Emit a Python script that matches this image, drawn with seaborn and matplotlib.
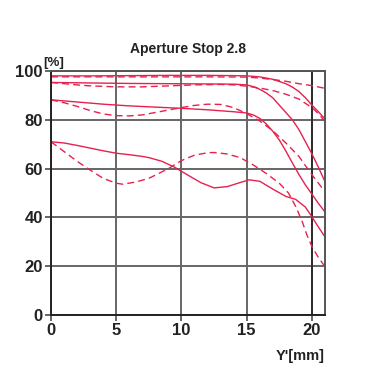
import matplotlib
matplotlib.use("Agg")
import matplotlib.pyplot as plt
import seaborn as sns
import pandas as pd

# image height Y' [mm] and contrast [%]
# solid = sagittal, dashed = meridional, four frequencies (top to bottom)
sag_10_x = [0, 3, 6, 9, 12, 14, 15, 16, 17, 18, 18.5, 19, 19.5, 20, 20.5, 21]
sag_10_y = [98, 98, 98.1, 98.2, 98.2, 98.1, 98, 97.6, 96.6, 94.8, 93.4, 91.6, 89, 86, 83.3, 80.3]
mer_10_x = [0, 3, 6, 9, 12, 15, 16, 17, 18, 19, 20, 21]
mer_10_y = [97.6, 97.6, 97.6, 97.6, 97.6, 97.5, 97.1, 96.5, 95.8, 94.8, 94, 92.9]

sag_20_x = [0, 3, 6, 9, 12, 14, 15, 15.5, 16, 16.5, 17, 17.5, 18, 18.5, 19, 19.5, 20, 20.5, 21]
sag_20_y = [95.3, 95.1, 94.9, 94.8, 94.7, 94.6, 94.3, 93.6, 92.5, 91, 89, 86, 83, 80, 76, 71, 66, 60.5, 54.6]
mer_20_x = [0, 1, 2, 3, 5, 7, 9, 11, 13, 14, 15, 16, 17, 18, 19, 20, 20.5, 21]
mer_20_y = [95.3, 94.8, 94.3, 93.9, 93.5, 93.5, 93.9, 94.3, 94.5, 94.3, 93.8, 93, 92, 90.5, 88.5, 85, 82.5, 79.3]

sag_30_x = [0, 2, 4, 6, 8, 10, 12, 14, 15, 15.5, 16, 16.5, 17, 17.5, 18, 18.5, 19, 19.5, 20, 20.5, 21]
sag_30_y = [88.2, 87.3, 86.4, 85.7, 85.2, 84.7, 84.1, 83.3, 82.8, 82, 80.6, 78.3, 75.3, 71.7, 67.2, 62.3, 57.6, 53.3, 49.5, 45.7, 42.2]
mer_30_x = [0, 1, 2, 3, 4, 5, 6, 7, 8, 9, 10, 11, 12, 13, 14, 15, 16, 17, 18, 19, 19.5, 20, 20.5, 21]
mer_30_y = [88.2, 87, 85.5, 83.8, 82.4, 81.7, 81.6, 82, 83, 84, 85, 85.9, 86.4, 86.3, 85, 82.5, 79.5, 75.5, 70.5, 65, 61.2, 57.5, 54, 50.5]

sag_40_x = [0, 1, 2, 3, 4, 5, 6, 7, 7.5, 8.5, 9.5, 10.5, 11.5, 12.5, 13.5, 14.5, 15.2, 16, 17, 18, 18.75, 19.5, 20, 20.5, 21]
sag_40_y = [71, 70.5, 69.5, 68.4, 67.3, 66.3, 65.7, 65, 64.5, 63, 60.5, 57.3, 54.2, 52.1, 52.6, 54.3, 55.4, 54.8, 51.6, 48.6, 47.4, 44.2, 40.2, 36, 32]
mer_40_x = [0, 1, 2, 3, 4, 5, 5.5, 6.5, 7.5, 9, 10, 11, 12, 12.5, 13.5, 14.5, 15.5, 16.5, 17.5, 18.2, 18.8, 19.3, 19.6, 20, 20.5, 21]
mer_40_y = [71, 67, 63, 59.4, 56, 54, 53.6, 54.5, 56, 60, 63.3, 65.5, 66.5, 66.6, 66, 64.5, 61.5, 58, 54, 50, 44, 37.6, 33, 28, 23.5, 19.8]

x_ticks = [0, 5, 10, 15, 20]
y_ticks = [0, 20, 40, 60, 80, 100]

series = [
    (sag_10_x, sag_10_y, "-"), (mer_10_x, mer_10_y, "--"),
    (sag_20_x, sag_20_y, "-"), (mer_20_x, mer_20_y, "--"),
    (sag_30_x, sag_30_y, "-"), (mer_30_x, mer_30_y, "--"),
    (sag_40_x, sag_40_y, "-"), (mer_40_x, mer_40_y, "--"),
]

sns.set_style("white")
plt.rcParams['font.family'] = ['Liberation Sans', 'DejaVu Sans']

fig = plt.figure(figsize=(3.76, 3.83), dpi=100)
ax = fig.add_axes([51 / 376, 68 / 383, 274 / 376, 244 / 383])

red = "#e8204e"
for xs, ys, ls in series:
    df = pd.DataFrame({"x": xs, "y": ys})
    sns.lineplot(data=df, x="x", y="y", ax=ax, color=red, lw=1.0,
                 sort=False, estimator=None)
    if ls == "--":
        ax.lines[-1].set_dashes([5, 3])

ax.set_xlim(0, 21)
ax.set_ylim(0, 100)
ax.set_xticks(x_ticks)
ax.set_yticks(y_ticks)
ax.set_xlabel("")
ax.set_ylabel("")

grid_col = "#666666"
ax.grid(True, color=grid_col, lw=1.4)
ax.axvline(20, color="#222222", lw=1.2, zorder=1)
for s in ["left", "bottom"]:
    ax.spines[s].set_color("#222222")
    ax.spines[s].set_linewidth(1.4)
for s in ["top", "right"]:
    ax.spines[s].set_color("#555555")
    ax.spines[s].set_linewidth(1.4)

ax.tick_params(axis="both", length=4, width=1.4, color=grid_col,
               labelsize=12, pad=2, direction="out", bottom=True, left=True)
for lab in ax.get_xticklabels() + ax.get_yticklabels():
    lab.set_fontweight("bold")
    lab.set_color("#222222")

ax.set_title("Aperture Stop 2.8", fontsize=10, fontweight="bold",
             color="#222222", pad=13)
ax.text(-0.03, 1.01, "[%]", transform=ax.transAxes, fontsize=9.5,
        fontweight="bold", color="#222222", ha="left", va="bottom")
ax.text(1.0, -0.14, "Y'[mm]", transform=ax.transAxes, fontsize=10.5,
        fontweight="bold", color="#222222", ha="right", va="top")

fig.savefig("out.png", dpi=100, facecolor="white")
